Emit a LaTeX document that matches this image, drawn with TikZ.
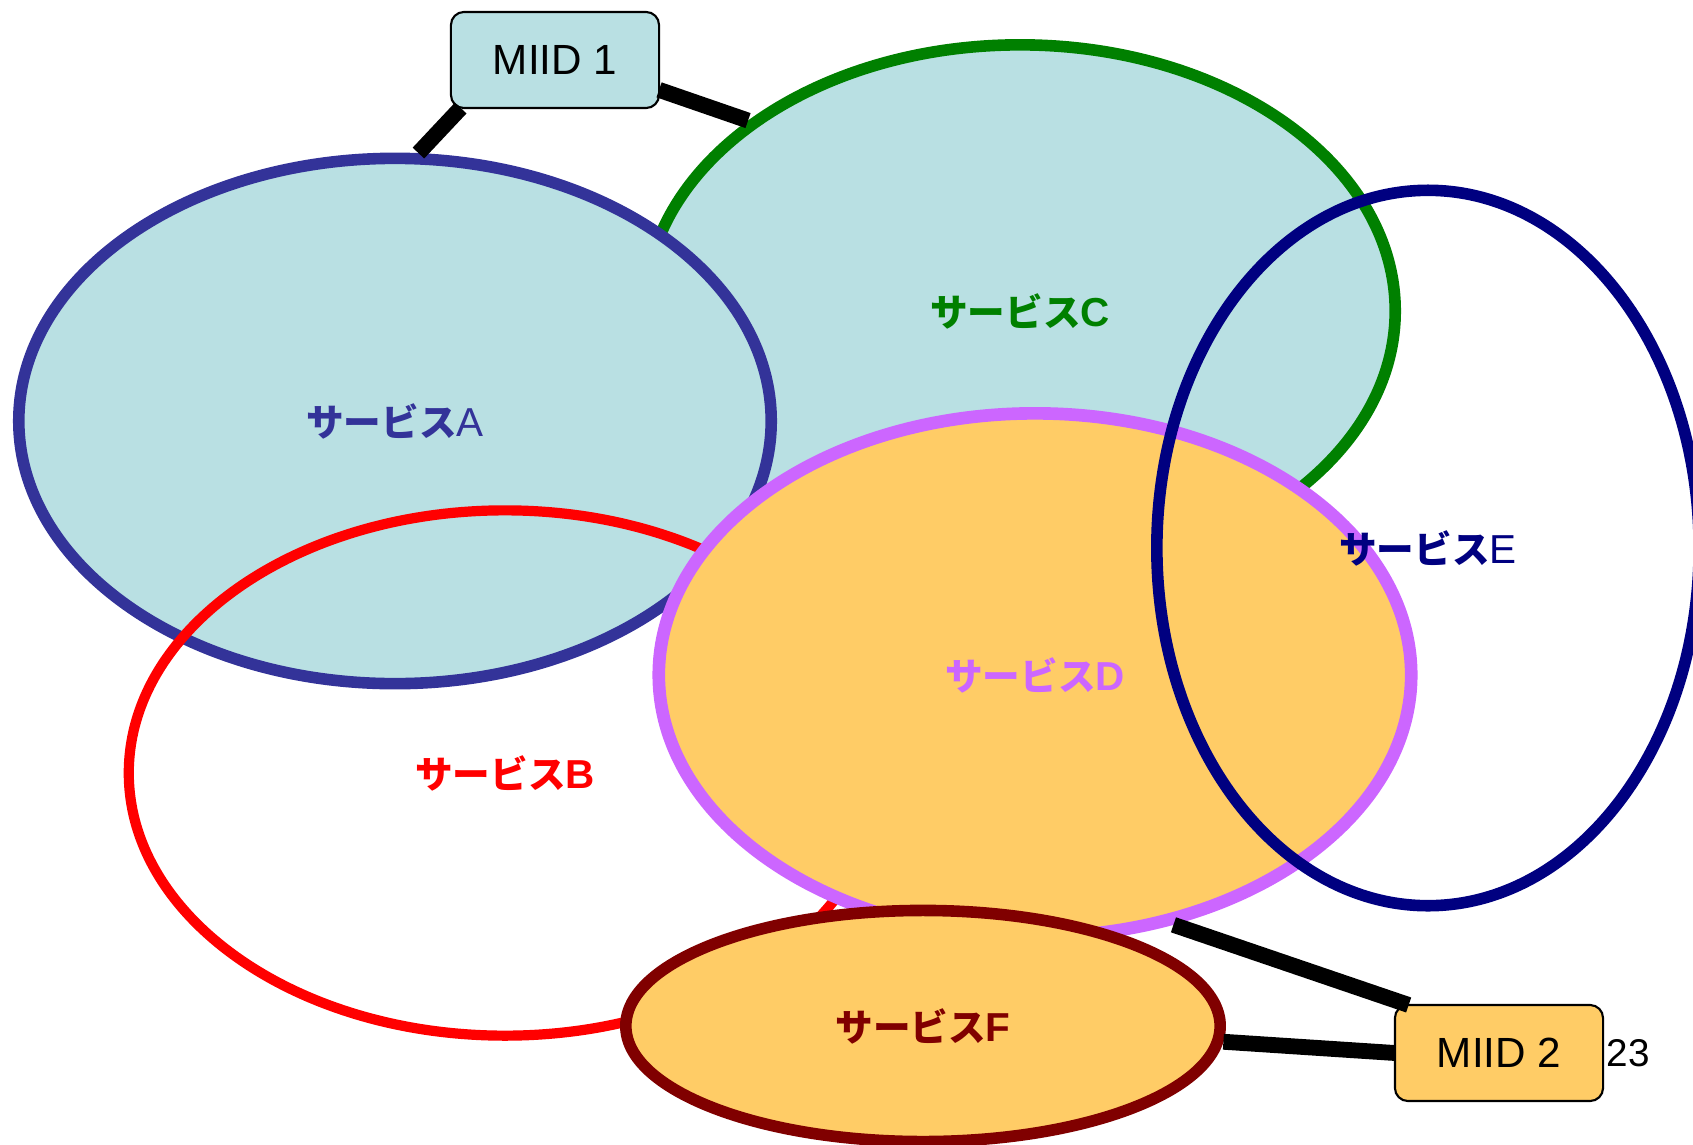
\documentclass[tikz,border=0pt]{standalone}
\usepackage{fontspec}
\setmainfont{Liberation Sans}
\newfontfamily\cjk{Noto Sans CJK JP}
\usetikzlibrary{shapes.geometric,positioning}

\definecolor{paleblue}{HTML}{B9E0E3}
\definecolor{paleorange}{HTML}{FFCC66}
\definecolor{svcindigo}{HTML}{333399}
\definecolor{svcgreen}{HTML}{008000}
\definecolor{svcred}{HTML}{FF0000}
\definecolor{svcviolet}{HTML}{CC66FF}
\definecolor{svcnavy}{HTML}{000080}
\definecolor{svcmaroon}{HTML}{800000}

\newcommand{\svcname}{{\cjk\bfseries\fontsize{10.7}{12}\selectfont サービス}}

\begin{document}
\begin{tikzpicture}[x=0.01cm, y=-0.01cm,
  svc/.style={ellipse, inner sep=0, line width=3.3pt, font=\fontsize{11.5}{13}\selectfont},
  miid/.style={draw, rounded corners=3.7pt, line width=0.6pt, outer sep=0, inner sep=0,
    minimum width=2.08cm, minimum height=0.96cm, font=\fontsize{12}{14}\selectfont},
  link/.style={line width=4.5pt}]

\useasboundingbox (0,0) rectangle (1693,1145);

\node[svc, draw=svcgreen, fill=paleblue, text=svcgreen,
  minimum width=7.50cm, minimum height=5.32cm] (C) at (1020,311) {\svcname\textbf{C}};

\node[svc, draw=svcindigo, fill=paleblue, text=svcindigo,
  minimum width=7.52cm, minimum height=5.25cm] (A) at (395,421) {\svcname A};

\node[svc, draw=svcred, line width=2.9pt, text=svcred,
  minimum width=7.52cm, minimum height=5.25cm] (B) at (505,773) {\svcname\textbf{B}};

\node[svc, draw=svcviolet, fill=paleorange, line width=3.6pt, text=svcviolet,
  minimum width=7.52cm, minimum height=5.23cm] (D) at (1035,675) {\svcname\textbf{D}};

\node[svc, draw=svcnavy, text=svcnavy,
  minimum width=5.42cm, minimum height=7.15cm] (E) at (1428,548) {\svcname E};

\node[svc, draw=svcmaroon, fill=paleorange, text=svcmaroon,
  minimum width=5.94cm, minimum height=2.31cm] (F) at (923,1026) {\svcname\textbf{F}};

\node[miid, fill=paleblue] (m1) at (555,60) {MIID 1};
\node[miid, fill=paleorange] (m2) at (1499,1053) {MIID 2};
\node[right=0.03cm of m2, inner sep=0, font=\fontsize{11}{13}\selectfont] (n23) {23};

\draw[link] (m1.207) -- (A.85);
\draw[link] (m1.-16) -- (C.145);
\draw[link] (m2.152) -- (D.-61);
\draw[link] (m2.west) -- (F.-3);

\end{tikzpicture}
\end{document}
